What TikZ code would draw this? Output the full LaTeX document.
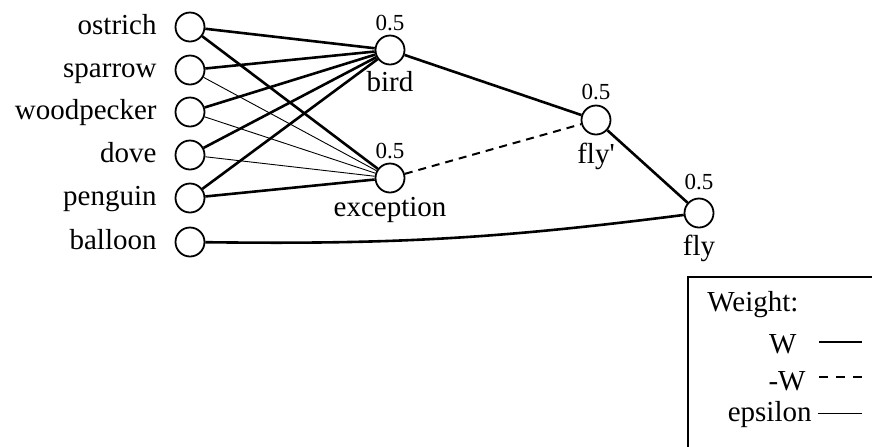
\documentclass[tikz,border=0pt]{standalone}
\usepackage{fontspec}
\setmainfont{Liberation Serif}
\usepackage{tikz}
\usetikzlibrary{positioning}

\begin{document}
\begin{tikzpicture}[
    x=0.5pt,y=-0.5pt,font=\fontsize{14.5}{17}\selectfont,
    unit/.style={circle,draw,line width=0.9pt,minimum size=14.5pt,inner sep=0pt},
    bias/.style={anchor=base,inner sep=0pt,font=\fontsize{11.5}{13}\selectfont},
    caption/.style={anchor=base,inner sep=0pt},
    item/.style={anchor=base east,inner sep=0pt},
    strong/.style={line width=1.3pt},
    inhib/.style={line width=1pt,dash pattern=on 4pt off 3pt},
    weak/.style={line width=0.45pt}
]
\useasboundingbox (0,0) rectangle (872,446);

% input units and their names
\foreach \name/\y in {ostrich/27,sparrow/70,woodpecker/112,dove/155,penguin/198,balloon/242} {
  \node[unit] (\name) at (190,\y) {};
  \node[item] (\name-txt) at (157,\y+7) {\name};
}

% hidden and output units, threshold above, name below
\node[unit] (bird) at (390,50) {};
\node[bias] (bird-th) at (390,30) {0.5};
\node[caption] (bird-txt) at (390,91) {bird};

\node[unit] (exception) at (390,178) {};
\node[bias] (exception-th) at (390,158) {0.5};
\node[caption] (exception-txt) at (390,216) {exception};

\node[unit] (flyp) at (596,120) {};
\node[bias] (flyp-th) at (596,99) {0.5};
\node[caption] (flyp-txt) at (596,163) {fly\textquotesingle};

\node[unit] (fly) at (699,213) {};
\node[bias] (fly-th) at (699,189) {0.5};
\node[caption] (fly-txt) at (699,255) {fly};

\foreach \a in {ostrich,sparrow,woodpecker,dove,penguin} {
  \draw[strong] (\a) -- (bird);
}
\draw[strong] (ostrich) -- (exception);
\draw[strong] (penguin) -- (exception);
\foreach \a in {sparrow,woodpecker,dove} {
  \draw[weak] (\a) -- (exception);
}
\draw[strong] (bird) -- (flyp);
\draw[inhib] (exception) -- (flyp);
\draw[strong] (flyp) -- (fly);
\draw[strong] (balloon) to[bend right=4] (fly);

% legend
\draw[line width=0.75pt] (688,277) rectangle (900,470);
\node[anchor=base west,inner sep=0pt] (wtitle) at (707,311) {Weight:};
\node[item] (wpos) at (797,353) {W};
\node[item] (wneg) at (806,390) {-W};
\node[item] (weps) at (812,421) {epsilon};
\draw[strong] (819,342) -- (862,342);
\draw[inhib,dash pattern=on 4.5pt off 4pt] (819,377) -- (863,377);
\draw[weak] (818,413) -- (862,413);
\end{tikzpicture}
\end{document}
